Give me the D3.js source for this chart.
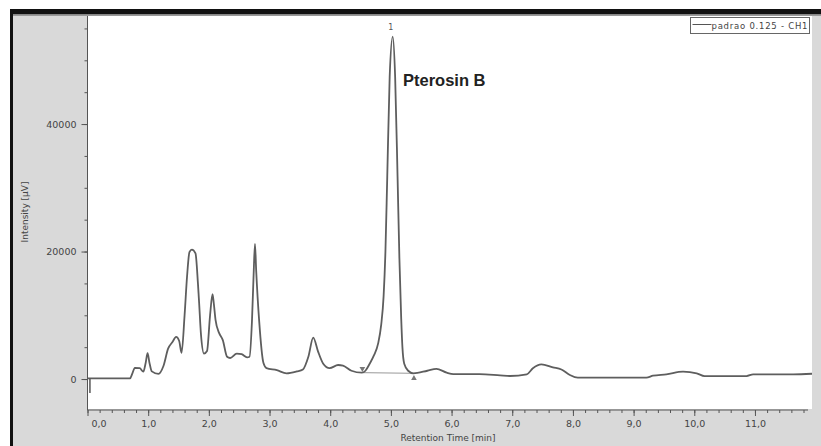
<!DOCTYPE html>
<html>
<head>
<meta charset="utf-8">
<script src="https://cdn.jsdelivr.net/npm/d3@7"></script>
<style>
  body { margin: 0; background: #fff; }
  svg { display: block; }
  .axis path, .axis line { stroke: #555; }
  .axis text { font-family: "DejaVu Sans", sans-serif; font-size: 9.5px; fill: #444; }
</style>
</head>
<body>
<svg id="chart" width="821" height="446"></svg>
<script>
// retention time [min] and intensity [µV]
var times = [0.00, 0.70, 0.74, 0.78, 0.86, 0.92, 0.96, 0.99, 1.02, 1.06, 1.17, 1.25, 1.33, 1.40, 1.46, 1.51,
    1.55, 1.60, 1.64, 1.68, 1.72, 1.78, 1.82, 1.84, 1.87, 1.92, 1.97, 2.02, 2.06, 2.08, 2.11, 2.17,
    2.23, 2.30, 2.35, 2.46, 2.54, 2.63, 2.67, 2.71, 2.74, 2.76, 2.78, 2.83, 2.90, 2.95, 3.12, 3.28,
    3.45, 3.55, 3.64, 3.72, 3.80, 3.885, 3.99, 4.13, 4.21, 4.35, 4.52, 4.58, 4.65, 4.72, 4.79, 4.84,
    4.88, 4.91, 4.94, 4.98, 5.03, 5.07, 5.11, 5.14, 5.17, 5.19, 5.22, 5.285, 5.37, 5.60, 5.75, 5.92,
    6.03, 6.46, 6.80, 6.96, 7.24, 7.34, 7.48, 7.67, 7.81, 7.95, 8.08, 9.21, 9.32, 9.54, 9.815, 10.04,
    10.17, 10.86, 10.97, 11.63, 11.94];
var intensity = [100, 100, 900, 1750, 1700, 1150, 2600, 4050, 2600, 1200, 800, 2000, 4800, 5800, 6600, 6000,
    4100, 10000, 16000, 19900, 20300, 19700, 15000, 11900, 7000, 4000, 4400, 10000, 13300, 12000, 9300, 7200,
    6100, 3500, 3300, 4000, 3900, 3400, 3500, 9000, 17000, 21200, 17000, 9000, 2500, 1700, 1400, 900,
    1200, 1500, 3500, 6500, 4300, 2400, 1700, 2200, 2100, 1300, 1000, 1300, 2400, 3700, 5600, 8500,
    13000, 20000, 31700, 47400, 53700, 47400, 31700, 19000, 9500, 5000, 2400, 1300, 900, 1300, 1600, 1000,
    780, 780, 580, 480, 730, 1680, 2300, 1830, 1500, 630, 210, 210, 520, 730, 1150, 900,
    470, 470, 730, 730, 830];

var yTicks = [0, 20000, 40000];
var xTicks = [0, 1, 2, 3, 4, 5, 6, 7, 8, 9, 10, 11];

// integration of peak 1 (start, end) and injection mark
var peakStart = {t: 4.53, v: 1000};
var peakEnd = {t: 5.38, v: 900};
var peakTop = {t: 5.03, v: 55400, label: "1"};
var injection = {t: 0.04, from: 100, to: -2200};

var svg = d3.select("#chart");

// frame
svg.append("rect").attr("x", 10).attr("y", 9).attr("width", 811).attr("height", 437).attr("fill", "#d9d9d9");
svg.append("rect").attr("x", 10).attr("y", 9).attr("width", 811).attr("height", 5.5).attr("fill", "#111");
svg.append("rect").attr("x", 10).attr("y", 14.5).attr("width", 811).attr("height", 1.5).attr("fill", "#999");
svg.append("rect").attr("x", 10).attr("y", 9).attr("width", 3).attr("height", 437).attr("fill", "#111");

var plotL = 88, plotR = 812, plotT = 16, plotB = 409;
svg.append("rect").attr("x", plotL).attr("y", plotT).attr("width", plotR - plotL).attr("height", plotB - plotT).attr("fill", "#fff");

var x = d3.scaleLinear().domain([0, 11.94]).range([87.5, plotR]);
var y = d3.scaleLinear().domain([-4700, 56950]).range([plotB, plotT]);

var fmt = function (d) { return d3.format(".1f")(d).replace(".", ","); };

// x axis: major + minor ticks
var minorX = d3.range(0, 11.9, 0.2);
svg.append("g").attr("class", "axis").attr("transform", "translate(0," + (plotB + 1) + ")")
    .call(d3.axisBottom(x).tickValues(minorX).tickSize(3).tickFormat(""))
    .call(function (g) { g.select(".domain").remove(); });
var gx = svg.append("g").attr("class", "axis").attr("transform", "translate(0," + (plotB + 1) + ")")
    .call(d3.axisBottom(x).tickValues(xTicks).tickSize(6).tickSizeOuter(0).tickPadding(4).tickFormat(fmt));
gx.select(".domain").attr("d", "M87.5,0H" + (plotR - 4));
gx.selectAll(".tick text").filter(function (d) { return d === 0; }).attr("dx", 11);

// y axis
var minorY = d3.range(0, 56000, 5000);
svg.append("g").attr("class", "axis").attr("transform", "translate(87.5,0)")
    .call(d3.axisLeft(y).tickValues(minorY).tickSize(3).tickFormat(""))
    .call(function (g) { g.select(".domain").remove(); });
var gy = svg.append("g").attr("class", "axis").attr("transform", "translate(87.5,0)")
    .call(d3.axisLeft(y).tickValues(yTicks).tickSize(6).tickSizeOuter(0).tickPadding(5).tickFormat(d3.format("d")));
gy.select(".domain").attr("d", "M0," + plotT + "V" + (plotB + 1));

// axis titles
svg.append("text").attr("x", 448).attr("y", 441).attr("text-anchor", "middle")
    .attr("font-family", "DejaVu Sans, sans-serif").attr("font-size", 9).attr("fill", "#444")
    .text("Retention Time [min]");
svg.append("text").attr("transform", "translate(28,212) rotate(-90)").attr("text-anchor", "middle")
    .attr("font-family", "DejaVu Sans, sans-serif").attr("font-size", 9).attr("fill", "#444")
    .text("Intensity [µV]");

// peak baseline
svg.append("line")
    .attr("x1", x(peakStart.t)).attr("y1", y(peakStart.v))
    .attr("x2", x(peakEnd.t)).attr("y2", y(peakEnd.v))
    .attr("stroke", "#999").attr("stroke-width", 1);

// chromatogram
var data = times.map(function (t, i) { return {t: t, v: intensity[i]}; });
var line = d3.line()
    .x(function (d) { return x(d.t); })
    .y(function (d) { return y(d.v); })
    .curve(d3.curveMonotoneX);
svg.append("path").datum(data).attr("d", line)
    .attr("fill", "none").attr("stroke", "#5e5e5e").attr("stroke-width", 1.8).attr("stroke-linejoin", "round");

svg.append("line")
    .attr("x1", x(injection.t)).attr("y1", y(injection.from))
    .attr("x2", x(injection.t)).attr("y2", y(injection.to))
    .attr("stroke", "#555").attr("stroke-width", 1.5);

// peak markers
var tri = d3.symbol().type(d3.symbolTriangle).size(14);
svg.append("path").attr("d", tri)
    .attr("transform", "translate(" + x(peakStart.t) + "," + (y(peakStart.v) - 4) + ") rotate(180)")
    .attr("fill", "#777");
svg.append("path").attr("d", tri)
    .attr("transform", "translate(" + x(peakEnd.t) + "," + (y(peakEnd.v) + 5) + ")")
    .attr("fill", "#777");
svg.append("text").attr("x", x(peakTop.t) - 2).attr("y", y(peakTop.v) + 4).attr("text-anchor", "middle")
    .attr("font-family", "DejaVu Sans, sans-serif").attr("font-size", 8).attr("fill", "#555")
    .text(peakTop.label);

svg.append("text").attr("x", 403).attr("y", 86)
    .attr("font-family", "Liberation Sans, Arial, sans-serif").attr("font-weight", "bold")
    .attr("font-size", 16.5).attr("fill", "#222")
    .text("Pterosin B");

// legend
var lg = svg.append("g").attr("transform", "translate(690.5,17.5)");
lg.append("rect").attr("width", 119).attr("height", 16).attr("fill", "#fff").attr("stroke", "#666");
lg.append("line").attr("x1", 2).attr("x2", 21).attr("y1", 7).attr("y2", 7).attr("stroke", "#555");
lg.append("text").attr("x", 21).attr("y", 11.5)
    .attr("font-family", "DejaVu Sans, sans-serif").attr("font-size", 8.5).attr("fill", "#444")
    .attr("textLength", 96)
    .text("padrao 0.125 - CH1");
</script>
</body>
</html>
